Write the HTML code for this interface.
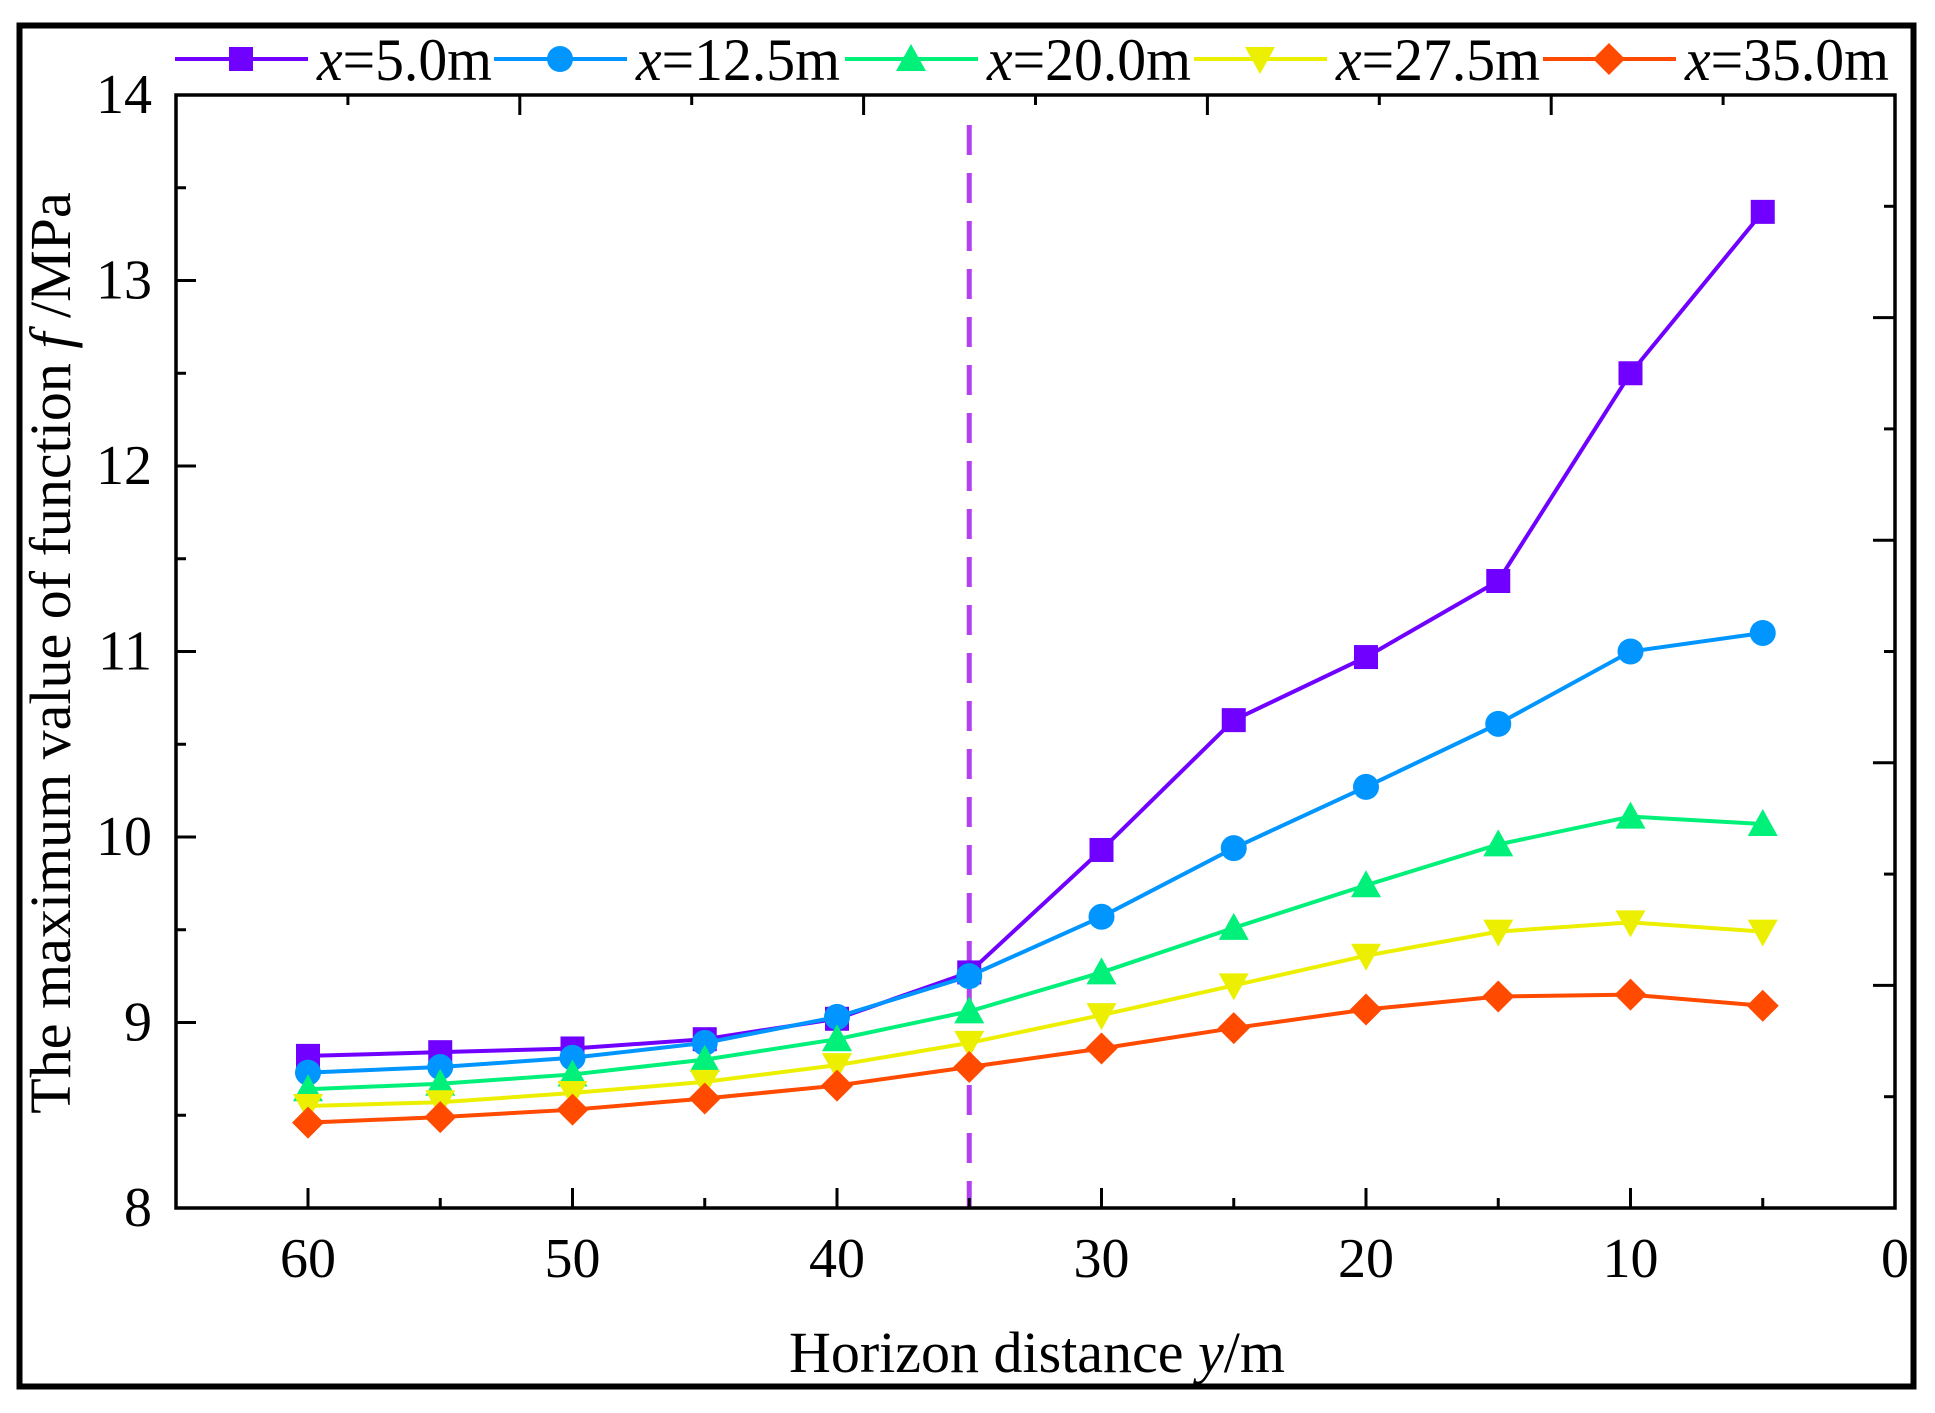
<!DOCTYPE html>
<html><head><meta charset="utf-8"><style>html,body{margin:0;padding:0;background:#fff}svg{display:block}</style></head>
<body>
<svg xmlns="http://www.w3.org/2000/svg" width="1935" height="1413" viewBox="0 0 1935 1413" font-family="Liberation Serif, serif">
<rect x="0" y="0" width="1935" height="1413" fill="#fff"/>
<rect x="19.5" y="25.5" width="1894" height="1361" fill="none" stroke="#000" stroke-width="6"/>
<g id="chart"></g>
</svg>
<script>
const svg=document.getElementById('chart');
const NS='http://www.w3.org/2000/svg';
function el(t,a,txt){const e=document.createElementNS(NS,t);for(const k in a)e.setAttribute(k,a[k]);if(txt!==undefined)e.textContent=txt;svg.appendChild(e);return e;}
const L=176,R=1895,T=95,B=1208;
const X=v=>R-v*26.45, Y=v=>T+(14-v)*185.5;
el('line',{x1:X(35),y1:T+30,x2:X(35),y2:B,stroke:'#B040F0','stroke-width':5,'stroke-dasharray':'30 18'});
el('rect',{x:L,y:T,width:R-L,height:B-T,fill:'none',stroke:'#000','stroke-width':3.5});
for(let v=0;v<=65;v+=5){const x=X(v);if(x<L+1)continue;const maj=v%10==0;el('line',{x1:x,y1:B,x2:x,y2:B-(maj?20:10),stroke:'#000','stroke-width':3});}
[60,50,40,30,20,10,0].forEach(v=>el('text',{x:X(v),y:1277,'font-size':56,'text-anchor':'middle'},String(v)));
for(let k=1;k<10;k++){const x=L+k*(R-L)/10;el('line',{x1:x,y1:T,x2:x,y2:T+(k%2==0?20:10),stroke:'#000','stroke-width':3});}
for(let v=8;v<=14;v+=0.5){const y=Y(v);const maj=Number.isInteger(v);el('line',{x1:L,y1:y,x2:L+(maj?20:10),y2:y,stroke:'#000','stroke-width':3});if(maj)el('text',{x:152,y:y+18,'font-size':56,'text-anchor':'end'},String(v));}
for(let k=1;k<10;k++){const y=B-k*111.3;el('line',{x1:R,y1:y,x2:R-(k%2==0?22:11),y2:y,stroke:'#000','stroke-width':3});}
el('text',{x:1037,y:1372,'font-size':58,'text-anchor':'middle'}).innerHTML='Horizon distance <tspan font-style="italic">y</tspan>/m';
const yt=el('text',{x:0,y:0,'font-size':58,'text-anchor':'middle',transform:'translate(70,653) rotate(-90)'});
yt.innerHTML='The maximum value of function <tspan font-style="italic">f</tspan> /MPa';
const xs=[60,55,50,45,40,35,30,25,20,15,10,5];
const S=[
{c:'#7000FF',m:'sq',d:[8.82,8.84,8.86,8.91,9.02,9.27,9.93,10.63,10.97,11.38,12.5,13.37],lx:175,t:'5.0m'},
{c:'#0095FF',m:'ci',d:[8.73,8.76,8.81,8.89,9.03,9.25,9.57,9.94,10.27,10.61,11.0,11.1],lx:494,t:'12.5m'},
{c:'#00F07A',m:'tu',d:[8.64,8.67,8.72,8.80,8.91,9.06,9.27,9.51,9.74,9.96,10.11,10.07],lx:845,t:'20.0m'},
{c:'#ECF000',m:'td',d:[8.55,8.57,8.62,8.68,8.77,8.89,9.04,9.20,9.36,9.49,9.54,9.49],lx:1194,t:'27.5m'},
{c:'#FF4A00',m:'di',d:[8.46,8.49,8.53,8.59,8.66,8.76,8.86,8.97,9.07,9.14,9.15,9.09],lx:1543,t:'35.0m'}];
function mk(m,x,y,c){
 if(m=='sq')el('rect',{x:x-12,y:y-12,width:24,height:24,fill:c});
 else if(m=='ci')el('circle',{cx:x,cy:y,r:13,fill:c});
 else if(m=='tu')el('polygon',{points:`${x},${y-15} ${x-15},${y+12} ${x+15},${y+12}`,fill:c});
 else if(m=='td')el('polygon',{points:`${x},${y+15} ${x-15},${y-12} ${x+15},${y-12}`,fill:c});
 else el('polygon',{points:`${x},${y-16} ${x+16},${y} ${x},${y+16} ${x-16},${y}`,fill:c});
}
S.forEach(s=>{
 el('polyline',{points:s.d.map((v,i)=>X(xs[i])+','+Y(v)).join(' '),fill:'none',stroke:s.c,'stroke-width':4});
 s.d.forEach((v,i)=>mk(s.m,X(xs[i]),Y(v),s.c));
 el('line',{x1:s.lx,y1:59,x2:s.lx+133,y2:59,stroke:s.c,'stroke-width':4});
 mk(s.m,s.lx+66,59,s.c);
 const w=(s.t.length==4)?175:204;
 el('text',{x:s.lx+142,y:80,'font-size':60,textLength:w,lengthAdjust:'spacingAndGlyphs'}).innerHTML='<tspan font-style="italic">x</tspan>='+s.t;
});
</script>
</body></html>
